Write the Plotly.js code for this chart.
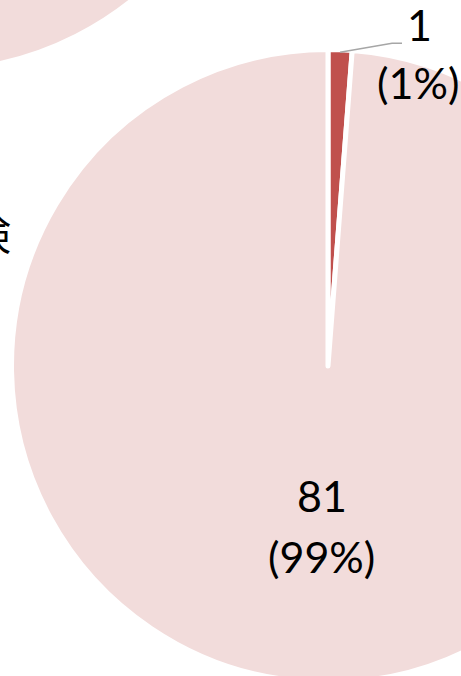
<!DOCTYPE html>
<html><head><meta charset="utf-8">
<script src="https://cdn.plot.ly/plotly-3.0.1.min.js"></script>
<style>
html,body{margin:0;padding:0;overflow:hidden;width:461px;height:676px;background:#fff}
#chart{position:absolute;left:-400px;top:-580px;width:1100px;height:1300px}
</style>
</head><body><div id="chart"></div>
<script>
// ---- data ----
const categories = ['あり', 'なし'];
const mainValues = [1, 81];
const upperValues = [2, 80];
const sideLabel = '保険';
const sliceColors = ['#C0504D', '#F2DCDB'];

// ---- geometry (page pixels) ----
const OFFX = 400, OFFY = 580, W = 1100, H = 1300;
const R = 316.5;
const mainC = [328, 366];
const upperC = [-67, -246];

function px(x) { return (x + OFFX) / W; }
function py(y) { return 1 - (y + OFFY) / H; }
function domainFor(c, r) {
  return { x: [px(c[0] - r), px(c[0] + r)], y: [py(c[1] + r), py(c[1] - r)] };
}

const pieBase = {
  type: 'pie', labels: categories, sort: false, direction: 'clockwise', rotation: 0,
  marker: { colors: sliceColors, line: { color: '#FFFFFF', width: 5 } },
  textinfo: 'none', hoverinfo: 'skip', showlegend: false
};

const traces = [
  Object.assign({}, pieBase, { values: upperValues, domain: domainFor(upperC, R) }),
  Object.assign({}, pieBase, { values: mainValues, domain: domainFor(mainC, R) })
];

// ---- labels from data ----
const total = mainValues.reduce((a, b) => a + b, 0);
const font = { family: 'Lato, "Noto Sans", sans-serif', size: 43, color: '#000' };
const annotations = [];
const shapes = [];
let cum = 0;
mainValues.forEach((v, i) => {
  const frac = v / total;
  const mid = (cum + frac / 2) * 2 * Math.PI;
  cum += frac;
  const pct = '(' + Math.round(frac * 100) + '%)';
  const sx = Math.sin(mid), cy = Math.cos(mid);
  if (frac < 0.05) {
    // outside label with leader line
    const ax = mainC[0] + (R - 2.5) * sx, ay = mainC[1] - (R - 2.5) * cy;
    const ex = ax + 52, ey = ay - 9, fx = ex + 10;
    shapes.push({ type: 'path', xref: 'paper', yref: 'paper',
      path: 'M' + px(ax) + ',' + py(ay) + ' L' + px(ex) + ',' + py(ey) + ' L' + px(fx) + ',' + py(ey),
      line: { color: '#A6A6A6', width: 1.5 } });
    const tx = fx + 16;
    annotations.push({ xref: 'paper', yref: 'paper', x: px(tx + 1), y: py(ey - 19), text: String(v),
      showarrow: false, xanchor: 'center', yanchor: 'middle', font: font });
    annotations.push({ xref: 'paper', yref: 'paper', x: px(tx), y: py(ey + 39), text: pct,
      showarrow: false, xanchor: 'center', yanchor: 'middle', font: font });
  } else {
    const lx = mainC[0] + 0.52 * R * sx, ly = mainC[1] - 0.52 * R * cy;
    annotations.push({ xref: 'paper', yref: 'paper', x: px(lx), y: py(ly - 35), text: String(v),
      showarrow: false, xanchor: 'center', yanchor: 'middle', font: font });
    annotations.push({ xref: 'paper', yref: 'paper', x: px(lx), y: py(ly + 26), text: pct,
      showarrow: false, xanchor: 'center', yanchor: 'middle', font: font });
  }
});

annotations.push({ xref: 'paper', yref: 'paper', x: px(13), y: py(231), text: sideLabel,
  showarrow: false, xanchor: 'right', yanchor: 'middle',
  font: { family: '"Noto Sans CJK JP", sans-serif', size: 42, color: '#000' } });

const layout = {
  width: W, height: H,
  margin: { l: 0, r: 0, t: 0, b: 0 },
  paper_bgcolor: 'rgba(0,0,0,0)', plot_bgcolor: 'rgba(0,0,0,0)',
  annotations: annotations, shapes: shapes
};

Plotly.newPlot('chart', traces, layout, { displayModeBar: false, staticPlot: true });
</script>
</body></html>
